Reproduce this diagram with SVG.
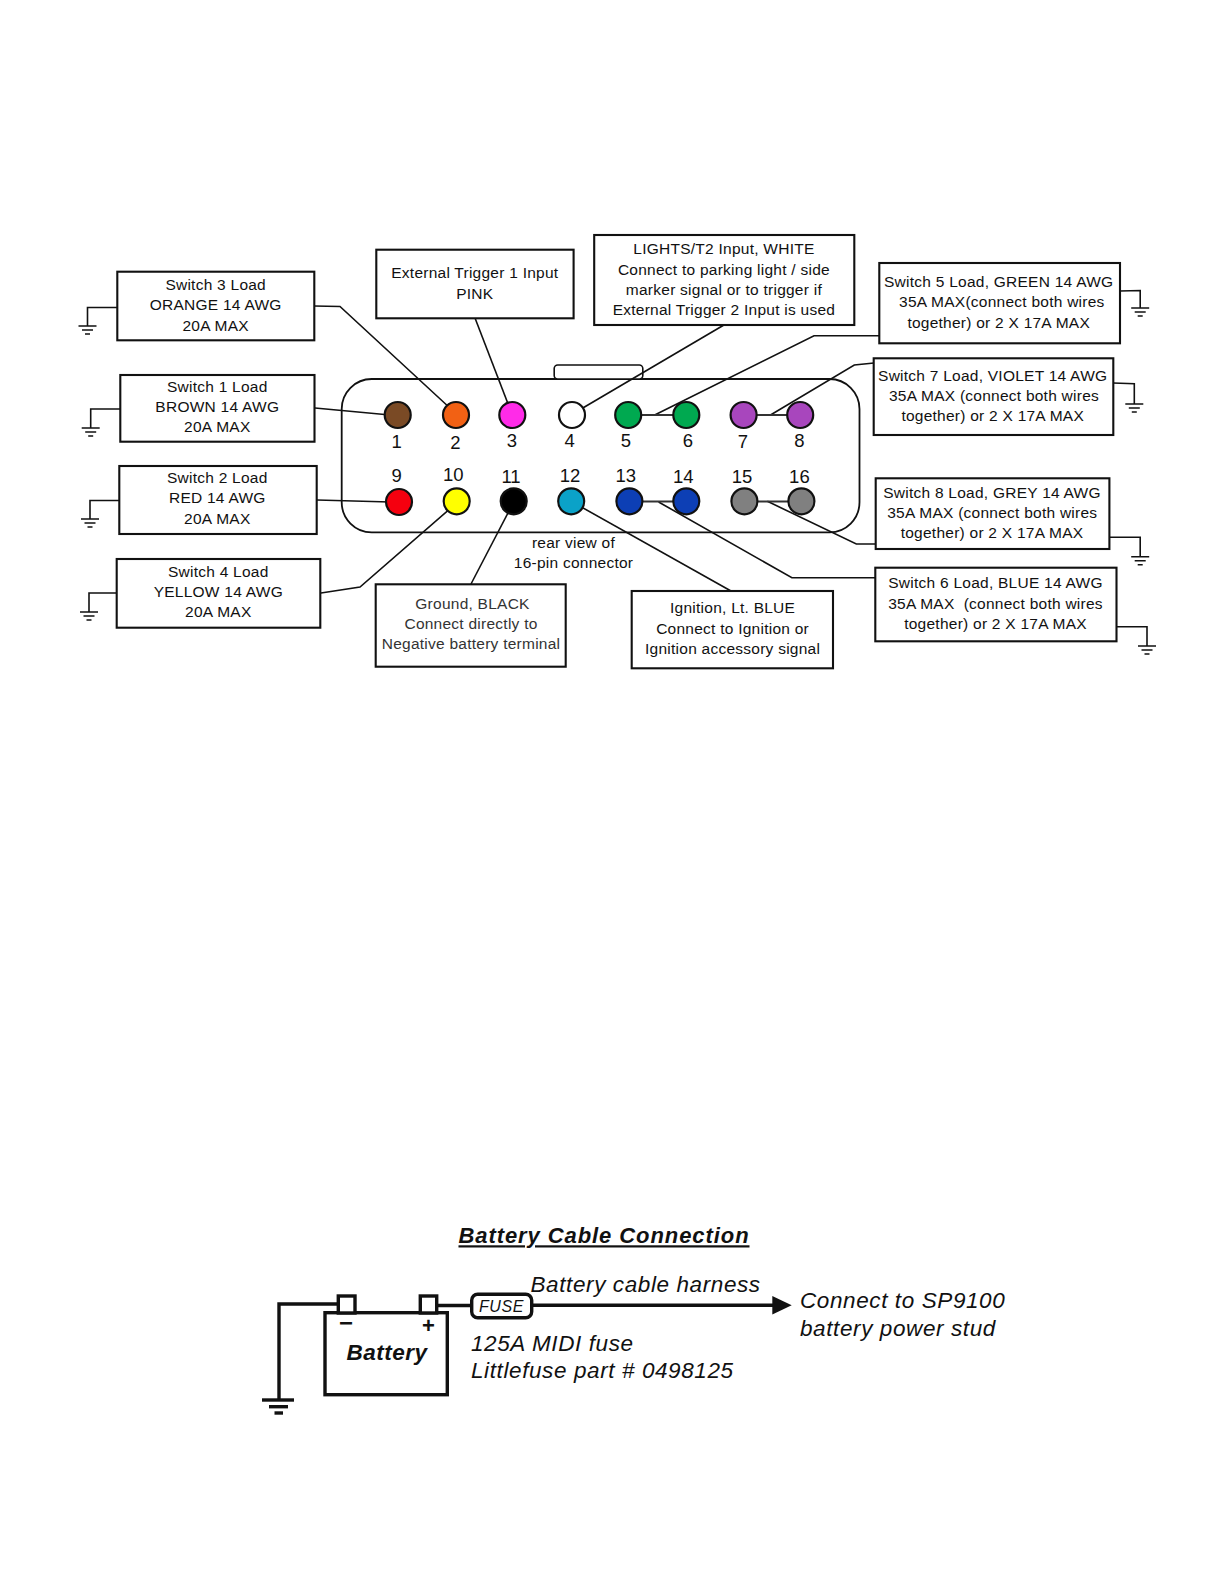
<svg xmlns="http://www.w3.org/2000/svg" width="1224" height="1584" viewBox="0 0 1224 1584">
<style>
text{font-family:"Liberation Sans",Arial,sans-serif;fill:#111;white-space:pre}
.t{font-size:15.500px;letter-spacing:.25px;text-anchor:middle}
.g{fill:#333}
.n{font-size:18.500px;text-anchor:middle}
.box{fill:#fff;stroke:#111;stroke-width:2.1}
.w{fill:none;stroke:#111;stroke-width:1.6}
.j{fill:none;stroke:#333;stroke-width:2.2}
.pin{stroke:#111;stroke-width:2.2}
.big{font-size:22.500px;letter-spacing:.6px;font-style:italic}
.heavy{fill:none;stroke:#111;stroke-width:3.4}
.solid{fill:#fff;stroke:#111;stroke-width:3.4}
</style>
<defs>
<g id="gnd"><path class="w" d="M-9 0H9M-5.500 4H5.500M-2.500 8H2.500"/></g>
</defs>
<rect width="1224" height="1584" fill="#fff"/>
<g id="connector-shell">
<rect x="341.700" y="379" width="517.800" height="153.300" rx="30" fill="#fff" stroke="#111" stroke-width="1.800"/>
<rect x="554.200" y="365" width="88.600" height="14" rx="3.500" fill="#fff" stroke="#111" stroke-width="1.600"/>
</g>
<g id="connectors">
<path class="w" d="M117 307.500H87.500V326"/>
<path class="w" d="M120 409H90.700V428"/>
<path class="w" d="M119 500.500H90V519"/>
<path class="w" d="M118 593H89V612"/>
<path class="w" d="M1120 291L1140.200 290.500V308"/>
<path class="w" d="M1113 383L1134.300 383.700V404"/>
<path class="w" d="M1109.400 537.300H1140.200V556.700"/>
<path class="w" d="M1116.500 626.700H1147V646"/>
<path class="w" d="M314 306L340 306.500L451 409"/>
<path class="w" d="M315 408L390 415"/>
<path class="w" d="M317 500L390 502"/>
<path class="w" d="M321 593L360 587L452 507"/>
<path class="w" d="M471 584L510 509"/>
<path class="w" d="M475 318L510 409"/>
<path class="w" d="M723.900 325L576 412"/>
<path class="w" d="M880 335.700H814L654.700 415"/>
<path class="w" d="M874 363L854.300 365L770.500 415"/>
<path class="w" d="M875 544H856.300L767.400 501.300"/>
<path class="w" d="M875.300 577.700H791.900L658.600 502"/>
<path class="w" d="M731 591L576 504"/>
<path class="j" d="M640 415H675M756 415H788M642 501.500H674M757 501.500H789"/>
<use href="#gnd" x="87.500" y="326"/>
<use href="#gnd" x="90.700" y="428"/>
<use href="#gnd" x="90" y="519"/>
<use href="#gnd" x="89" y="612"/>
<use href="#gnd" x="1140.200" y="308"/>
<use href="#gnd" x="1134.300" y="404"/>
<use href="#gnd" x="1140.200" y="556.700"/>
<use href="#gnd" x="1147" y="646"/>
</g>
<g id="pins">
<circle id="pin1" class="pin" cx="397.700" cy="415" r="13" fill="#7a4a25"/>
<circle id="pin2" class="pin" cx="456" cy="415" r="13" fill="#f26114"/>
<circle id="pin3" class="pin" cx="512.300" cy="415" r="13" fill="#ff2be8"/>
<circle id="pin4" class="pin" cx="572" cy="415" r="13" fill="#fff"/>
<circle id="pin5" class="pin" cx="628.200" cy="415" r="13" fill="#00a950"/>
<circle id="pin6" class="pin" cx="686.300" cy="415" r="13" fill="#00a950"/>
<circle id="pin7" class="pin" cx="743.600" cy="415" r="13" fill="#a846bd"/>
<circle id="pin8" class="pin" cx="800.200" cy="415" r="13" fill="#a846bd"/>
<circle id="pin9" class="pin" cx="399" cy="502" r="13" fill="#f5000f"/>
<circle id="pin10" class="pin" cx="456.700" cy="501.300" r="13" fill="#ffff00"/>
<circle id="pin11" class="pin" cx="513.700" cy="501.300" r="13" fill="#000"/>
<circle id="pin12" class="pin" cx="571.200" cy="501.300" r="13" fill="#0ba2c8"/>
<circle id="pin13" class="pin" cx="629.400" cy="501.300" r="13" fill="#0d3fb5"/>
<circle id="pin14" class="pin" cx="686.300" cy="501.300" r="13" fill="#0d3fb5"/>
<circle id="pin15" class="pin" cx="744.400" cy="501.300" r="13" fill="#808080"/>
<circle id="pin16" class="pin" cx="801.400" cy="501.300" r="13" fill="#808080"/>
</g>
<g id="pin-numbers">
<text class="n" x="396.700" y="448">1</text>
<text class="n" x="455.500" y="449">2</text>
<text class="n" x="512" y="447">3</text>
<text class="n" x="569.700" y="447">4</text>
<text class="n" x="625.800" y="447">5</text>
<text class="n" x="687.900" y="447">6</text>
<text class="n" x="742.800" y="448">7</text>
<text class="n" x="799.400" y="447">8</text>
<text class="n" x="396.700" y="481.700">9</text>
<text class="n" x="453.300" y="481">10</text>
<text class="n" x="511" y="483">11</text>
<text class="n" x="570" y="481.700">12</text>
<text class="n" x="625.800" y="481.700">13</text>
<text class="n" x="683.300" y="483">14</text>
<text class="n" x="742" y="483">15</text>
<text class="n" x="799.400" y="483">16</text>
<text class="t" x="573.500" y="548">rear view of</text>
<text class="t" x="573.500" y="568">16-pin connector</text>
</g>
<g id="node-switch3"><rect class="box" x="117.300" y="271.700" width="197" height="68.600"/>
<text class="t" x="215.700" y="290">Switch 3 Load</text><text class="t" x="215.700" y="310.300">ORANGE 14 AWG</text><text class="t" x="215.700" y="330.500">20A MAX</text></g>
<g id="node-switch1"><rect class="box" x="120.300" y="375" width="194.200" height="66.700"/>
<text class="t" x="217.300" y="391.700">Switch 1 Load</text><text class="t" x="217.300" y="411.700">BROWN 14 AWG</text><text class="t" x="217.300" y="432">20A MAX</text></g>
<g id="node-switch2"><rect class="box" x="119.300" y="466" width="197.400" height="68"/>
<text class="t" x="217.300" y="483.300">Switch 2 Load</text><text class="t" x="217.300" y="503.300">RED 14 AWG</text><text class="t" x="217.300" y="523.700">20A MAX</text></g>
<g id="node-switch4"><rect class="box" x="116.700" y="559" width="203.600" height="68.700"/>
<text class="t" x="218.300" y="576.700">Switch 4 Load</text><text class="t" x="218.300" y="596.700">YELLOW 14 AWG</text><text class="t" x="218.300" y="617">20A MAX</text></g>
<g id="node-ground"><rect class="box" x="375.700" y="584.300" width="190" height="82.400"/>
<text class="t g" x="472.500" y="609.300">Ground, BLACK</text><text class="t g" x="471" y="629.300">Connect directly to</text><text class="t g" x="471" y="649.300">Negative battery terminal</text></g>
<g id="node-trigger1"><rect class="box" x="376.300" y="249.700" width="197.300" height="68.600"/>
<text class="t" x="474.800" y="278.300">External Trigger 1 Input</text><text class="t" x="474.800" y="298.500">PINK</text></g>
<g id="node-lights"><rect class="box" x="594.200" y="235" width="260.100" height="90"/>
<text class="t" x="723.900" y="254">LIGHTS/T2 Input, WHITE</text><text class="t" x="723.900" y="274.500">Connect to parking light / side</text><text class="t" x="723.900" y="294.500">marker signal or to trigger if</text><text class="t" x="723.900" y="314.500">External Trigger 2 Input is used</text></g>
<g id="node-switch5"><rect class="box" x="879.300" y="263" width="240.700" height="80.300"/>
<text class="t" x="998.700" y="287.300">Switch 5 Load, GREEN 14 AWG</text><text class="t" x="1001.800" y="307.300">35A MAX(connect both wires</text><text class="t" x="998.700" y="328">together) or 2 X 17A MAX</text></g>
<g id="node-switch7"><rect class="box" x="873.700" y="358.300" width="239.600" height="76.700"/>
<text class="t" x="992.700" y="380.700">Switch 7 Load, VIOLET 14 AWG</text><text class="t" x="994" y="400.700">35A MAX (connect both wires</text><text class="t" x="992.700" y="421">together) or 2 X 17A MAX</text></g>
<g id="node-switch8"><rect class="box" x="875.700" y="478.300" width="233.700" height="70.700"/>
<text class="t" x="992" y="497.700">Switch 8 Load, GREY 14 AWG</text><text class="t" x="992.300" y="518">35A MAX (connect both wires</text><text class="t" x="992" y="538">together) or 2 X 17A MAX</text></g>
<g id="node-switch6"><rect class="box" x="875.300" y="567.700" width="241.200" height="73.600"/>
<text class="t" x="995.500" y="588.300">Switch 6 Load, BLUE 14 AWG</text><text class="t" x="995.500" y="608.500">35A MAX  (connect both wires</text><text class="t" x="995.500" y="628.500">together) or 2 X 17A MAX</text></g>
<g id="node-ignition"><rect class="box" x="631.700" y="591" width="201.300" height="77.300"/>
<text class="t" x="732.600" y="613.300">Ignition, Lt. BLUE</text><text class="t" x="732.600" y="633.500">Connect to Ignition or</text><text class="t" x="732.600" y="653.700">Ignition accessory signal</text></g>
<g id="battery-title"><text x="604" y="1243.300" text-anchor="middle" font-size="22" letter-spacing=".92" font-weight="700" font-style="italic" text-decoration="underline">Battery Cable Connection</text></g>
<g id="battery-connectors">
<path class="heavy" d="M338.300 1304H279V1400"/>
<path class="heavy" d="M262 1400H294"/>
<path class="heavy" d="M269 1406.700H288"/>
<path class="heavy" d="M274.500 1413H283"/>
<path class="heavy" d="M436.700 1305.500H472"/>
<path class="heavy" d="M531.700 1305.300H774"/>
<path d="M772.300 1296L791.700 1305.300L772.300 1314.500Z" fill="#111"/>
</g>
<g id="node-battery">
<rect class="solid" x="325" y="1312.700" width="122.300" height="82"/>
<rect class="solid" x="338.300" y="1296" width="16.700" height="17"/>
<rect class="solid" x="420.300" y="1296" width="16.400" height="17"/>
<text x="346" y="1331" text-anchor="middle" font-size="24" font-weight="700">−</text>
<text x="428.500" y="1333" text-anchor="middle" font-size="22" font-weight="700">+</text>
<text x="387" y="1360" text-anchor="middle" font-size="22.500" letter-spacing=".5" font-weight="700" font-style="italic">Battery</text>
</g>
<g id="node-fuse"><rect class="solid" x="471.700" y="1294.300" width="60" height="23.400" rx="6"/>
<text x="501.500" y="1312" text-anchor="middle" font-size="16" letter-spacing=".6" font-style="italic">FUSE</text></g>
<g id="battery-labels">
<text class="big" x="530.500" y="1291.700">Battery cable harness</text>
<text class="big" x="800" y="1308">Connect to SP9100</text>
<text class="big" x="800" y="1336">battery power stud</text>
<text class="big" x="471" y="1351">125A MIDI fuse</text>
<text class="big" x="471" y="1378.300">Littlefuse part # 0498125</text>
</g>
</svg>
